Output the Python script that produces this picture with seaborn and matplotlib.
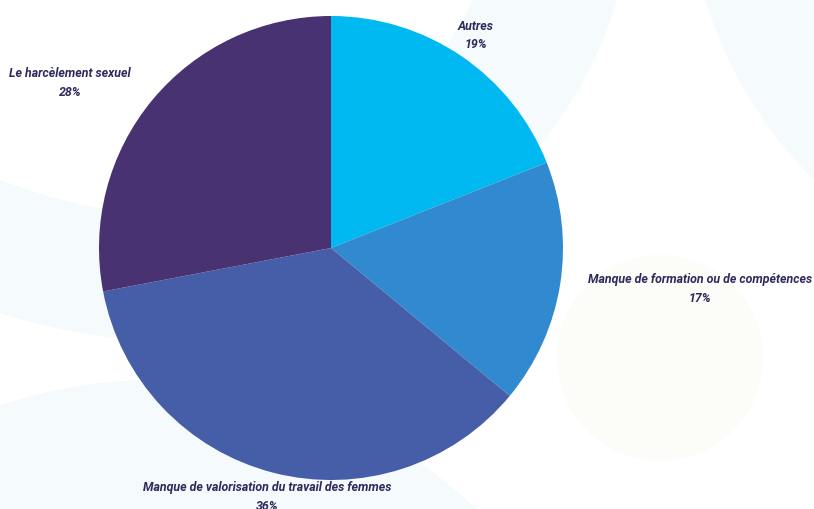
import matplotlib
matplotlib.use("Agg")
import matplotlib.pyplot as plt
from matplotlib.patches import Circle, Wedge
import seaborn as sns

# ---- data ----
categories = ["Autres", "Manque de formation ou de compétences",
              "Manque de valorisation du travail des femmes", "Le harcèlement sexuel"]
values = [19, 17, 36, 28]
value_labels = ["19%", "17%", "36%", "28%"]
colors = ["#00B9F1", "#318ACF", "#465EA7", "#483272"]

sns.set_theme(style="white")
plt.rcParams['font.family'] = ['Roboto', 'DejaVu Sans']

W, H = 814, 509
fig = plt.figure(figsize=(W / 100, H / 100), dpi=100)
fig.patch.set_facecolor("white")
ax = fig.add_axes([0, 0, 1, 1])

def fy(y):
    return H - y

# ---- faint decorative background shapes ----
deco_blue = "#F5FAFD"
ax.add_patch(Wedge((212, fy(-122)), 423, -70, 0, width=135, facecolor=deco_blue, edgecolor="none", zorder=0))
ax.add_patch(Circle((1120, fy(-128)), 434, facecolor=deco_blue, edgecolor="none", zorder=0))
ax.add_patch(Circle((153, fy(850)), 470, facecolor=deco_blue, edgecolor="none", zorder=0))
ax.add_patch(Wedge((197, fy(-325)), 668, -130, -80, width=126, facecolor=deco_blue, edgecolor="none", zorder=0))
ax.add_patch(Circle((660, fy(358)), 103, facecolor="#FCFCF8", edgecolor="none", zorder=0))

# ---- pie ----
cx, cy, R = 331, fy(248), 232
wedges, _ = ax.pie(values, colors=colors, startangle=90, counterclock=False,
                   center=(cx, cy), radius=R, wedgeprops=dict(linewidth=0))
for w in wedges:
    w.set_zorder(2)

# ---- labels ----
label_pos = [(476, 35.5), (700, 289), (267, 497), (70, 83)]
text_color = "#2E2A5C"
for (x, y), cat, val in zip(label_pos, categories, value_labels):
    ax.text(x, fy(y), f"{cat}\n{val}", ha="center", va="center",
            fontsize=8.9, fontweight="bold", fontstyle="italic",
            color=text_color, linespacing=1.55, zorder=3)

ax.set_xlim(0, W)
ax.set_ylim(0, H)
ax.set_aspect("equal")
ax.axis("off")

fig.savefig("out.png", dpi=100, facecolor="white")
